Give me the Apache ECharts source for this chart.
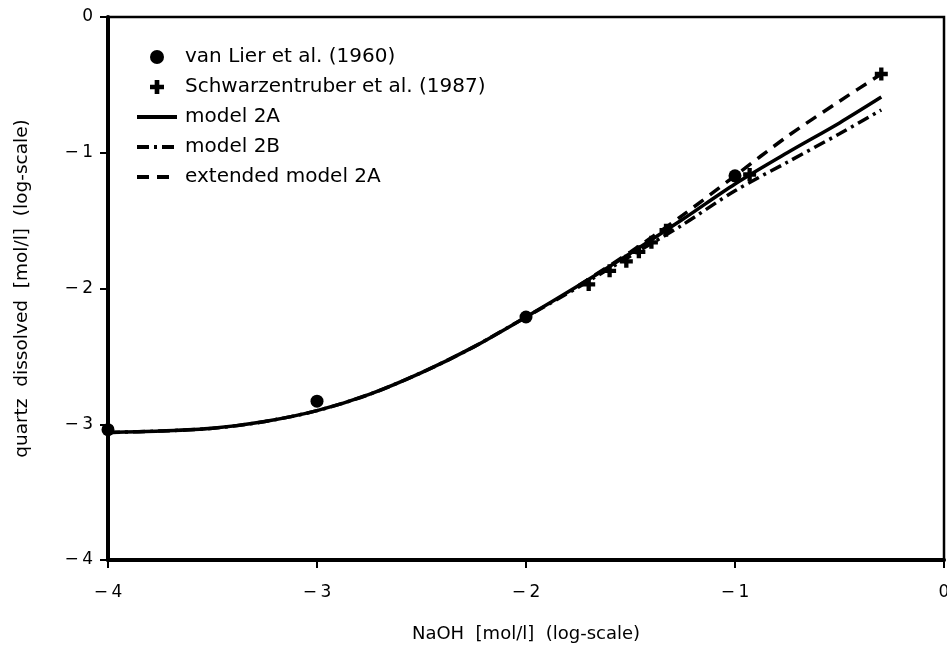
<!DOCTYPE html>
<html>
<head>
<meta charset="utf-8">
<script src="https://cdn.jsdelivr.net/npm/echarts@6/dist/echarts.min.js"></script>
<style>html,body{margin:0;padding:0;background:#fff}#c{width:947px;height:648px}</style>
</head>
<body>
<div id="c"></div>
<script>
// ---- data (log10 values) ----
const xTicks = [-4, -3, -2, -1, 0];
const yTicks = [-4, -3, -2, -1, 0];

const xVanLier = [-4, -3, -2, -1];
const yVanLier = [-3.04, -2.83, -2.21, -1.17];

const xSchwarz = [-1.70, -1.60, -1.52, -1.46, -1.40, -1.33, -0.93, -0.30];
const ySchwarz = [-1.97, -1.87, -1.80, -1.73, -1.66, -1.57, -1.16, -0.42];

const xModel = [-4, -3.75, -3.5, -3.25, -3, -2.75, -2.5, -2.25, -2, -1.75, -1.5, -1.25, -1, -0.75, -0.5, -0.3];
const yModel2A = [-3.06, -3.05, -3.03, -2.98, -2.90, -2.78, -2.62, -2.43, -2.21, -1.98, -1.74, -1.49, -1.23, -1.00, -0.78, -0.59];
const yModel2B = [-3.06, -3.05, -3.03, -2.98, -2.90, -2.78, -2.62, -2.43, -2.21, -1.99, -1.76, -1.53, -1.28, -1.07, -0.86, -0.685];

const xExt = [-1.75, -1.5, -1.25, -1, -0.75, -0.5, -0.3];
const yExt = [-1.98, -1.73, -1.46, -1.17, -0.88, -0.62, -0.42];

const names = ['van Lier et al. (1960)', 'Schwarzentruber et al. (1987)', 'model 2A', 'model 2B', 'extended model 2A'];

const zip = (xs, ys) => xs.map((x, i) => [x, ys[i]]);
const FONT = 'DejaVu Sans';
const plus = 'path://M4,0H8V4H12V8H8V12H4V8H0V4H4Z';
const fmt = v => v === 0 ? '0' : '\u2212\u2009' + Math.abs(v);

const chart = echarts.init(document.getElementById('c'), null, {renderer: 'canvas'});
chart.setOption({
  backgroundColor: '#fff',
  animation: false,
  textStyle: {fontFamily: FONT, color: '#000'},
  grid: {left: 108, right: 3, top: 17, bottom: 88, show: true, borderColor: '#000', borderWidth: 2.5,
         containLabel: false, outerBoundsMode: 'none'},
  legend: {
    orient: 'vertical', left: 130, top: 42, itemWidth: 40, itemHeight: 14, itemGap: 10,
    data: [
      {name: names[0]},
      {name: names[1]},
      {name: names[2], itemStyle: {opacity: 0}},
      {name: names[3], itemStyle: {opacity: 0}},
      {name: names[4], itemStyle: {opacity: 0}}
    ],
    lineStyle: {width: 4},
    textStyle: {fontFamily: FONT, fontSize: 20, lineHeight: 20, color: '#000', padding: [0, 0, 0, 3]},
    inactiveColor: '#000'
  },
  xAxis: {
    type: 'value', min: xTicks[0], max: xTicks[xTicks.length - 1], interval: 1,
    name: 'NaOH  [mol/l]  (log-scale)', nameLocation: 'middle', nameGap: 65,
    nameTextStyle: {fontFamily: FONT, fontSize: 18, color: '#000'},
    axisLine: {onZero: false, lineStyle: {color: '#000', width: 4}},
    axisTick: {show: true, inside: false, length: 8, lineStyle: {color: '#000', width: 2}},
    axisLabel: {margin: 24, fontFamily: FONT, fontSize: 17, color: '#000', formatter: fmt},
    splitLine: {show: false}
  },
  yAxis: {
    type: 'value', min: yTicks[0], max: yTicks[yTicks.length - 1], interval: 1,
    name: 'quartz  dissolved  [mol/l]  (log-scale)', nameLocation: 'middle', nameGap: 76, nameRotate: 90,
    nameTextStyle: {fontFamily: FONT, fontSize: 18.5, color: '#000'},
    axisLine: {onZero: false, lineStyle: {color: '#000', width: 4}},
    axisTick: {show: true, inside: false, length: 8, lineStyle: {color: '#000', width: 2}},
    axisLabel: {margin: 15, fontFamily: FONT, fontSize: 17, color: '#000', formatter: fmt},
    splitLine: {show: false}
  },
  series: [
    {name: names[0], type: 'scatter', data: zip(xVanLier, yVanLier), symbol: 'circle', symbolSize: 13,
     itemStyle: {color: '#000', opacity: 1}, z: 5},
    {name: names[1], type: 'scatter', data: zip(xSchwarz, ySchwarz), symbol: plus, symbolSize: 13,
     itemStyle: {color: '#000', opacity: 1}, z: 5},
    {name: names[2], type: 'line', data: zip(xModel, yModel2A), smooth: 0.3, showSymbol: false, symbol: 'none',
     lineStyle: {color: '#000', width: 3.5, type: 'solid'}, itemStyle: {color: '#000'}, z: 4},
    {name: names[3], type: 'line', data: zip(xModel, yModel2B), smooth: 0.3, showSymbol: false, symbol: 'none',
     lineStyle: {color: '#000', width: 3.5, type: [12, 5, 3, 5]}, itemStyle: {color: '#000'}, z: 3},
    {name: names[4], type: 'line', data: zip(xExt, yExt), smooth: 0.3, showSymbol: false, symbol: 'none',
     lineStyle: {color: '#000', width: 3.5, type: [12, 8]}, itemStyle: {color: '#000'}, z: 3}
  ]
});
</script>
</body>
</html>
